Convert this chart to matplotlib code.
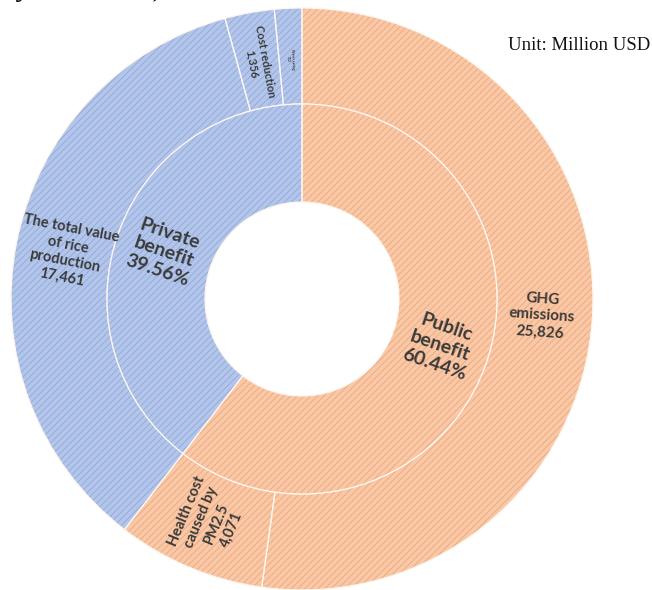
import matplotlib
matplotlib.use("Agg")
import matplotlib.pyplot as plt
import numpy as np

# Benefit components (million USD), clockwise from 12 o'clock
outer_names = ["GHG\nemissions", "Health cost\ncaused by\nPM2.5",
               "The total value\nof rice\nproduction", "Cost reduction",
               "Water saving"]
outer_values = [25826, 4071, 17461, 1356, 752]
outer_group = [0, 0, 1, 1, 1]

# Benefit categories (share of total, %)
inner_names = ["Public\nbenefit", "Private\nbenefit"]
inner_shares = [60.44, 39.56]

face = ["#f9c8a6", "#b3c6ea"]
stripe = ["#eda67c", "#8fa8db"]
text_col = "#3a3a3a"

plt.rcParams["hatch.linewidth"] = 0.6

W, H = 652, 590
fig = plt.figure(figsize=(W / 100, H / 100), dpi=100)
ax = fig.add_axes([0, 0, 1, 1])

cx, cy = 302, H - 299
r_out, r_mid, r_in = 291, 195, 97


def ring(values, colors, hatchcols, radius, width):
    wedges, _ = ax.pie(values, radius=radius, center=(cx, cy), startangle=90,
                       counterclock=False, colors=colors,
                       wedgeprops=dict(width=width, linewidth=0))
    for w, hc in zip(wedges, hatchcols):
        w.set_edgecolor(hc)
        w.set_hatch("/////")
        w.set_linewidth(0)
    # thin white separators on top
    ax.pie(values, radius=radius, center=(cx, cy), startangle=90,
           counterclock=False, colors=["none"] * len(values),
           wedgeprops=dict(width=width, linewidth=0.9, edgecolor="#fdf6f0",
                           facecolor="none"))


ring(outer_values, [face[g] for g in outer_group],
     [stripe[g] for g in outer_group], r_out, r_out - r_mid)
ring(inner_shares, face, stripe, r_mid, r_mid - r_in)


def radial_labels(values, texts, radius, sizes, spacing):
    total = float(sum(values))
    start = 0.0
    for v, t, fs in zip(values, texts, sizes):
        span = 360.0 * v / total
        mid = start + span / 2
        start += span
        theta = 90.0 - mid
        x = cx + radius * np.cos(np.radians(theta))
        y = cy + radius * np.sin(np.radians(theta))
        rot = theta
        while rot > 90:
            rot -= 180
        while rot <= -90:
            rot += 180
        ax.text(x, y, t, rotation=rot, rotation_mode="anchor",
                ha="center", va="center", multialignment="center",
                fontsize=fs, fontweight="bold", family="Lato",
                color=text_col, linespacing=spacing)


outer_texts = [f"{n}\n{v:,}" for n, v in zip(outer_names, outer_values)]
radial_labels(outer_values, outer_texts, (r_out + r_mid) / 2 - 3,
              [11, 10.5, 10.5, 8, 2.5], 1.22)

inner_texts = [f"{n}\n{s:.2f}%" for n, s in zip(inner_names, inner_shares)]
radial_labels(inner_shares, inner_texts, (r_mid + r_in) / 2, [14, 14], 1.18)

fig.text(0.997, 1 - 45 / H, "Unit: Million USD", ha="right", va="center",
         fontsize=13.5, family="Liberation Serif", color="#111111")
fig.text(10 / W, 1 + 5 / H, "ly condition)", ha="left", va="baseline",
         fontsize=22, family="Liberation Serif", style="italic",
         color="#111111")

ax.set_xlim(0, W)
ax.set_ylim(0, H)
ax.set_aspect("equal")
ax.axis("off")

fig.savefig("out.png", dpi=100)
